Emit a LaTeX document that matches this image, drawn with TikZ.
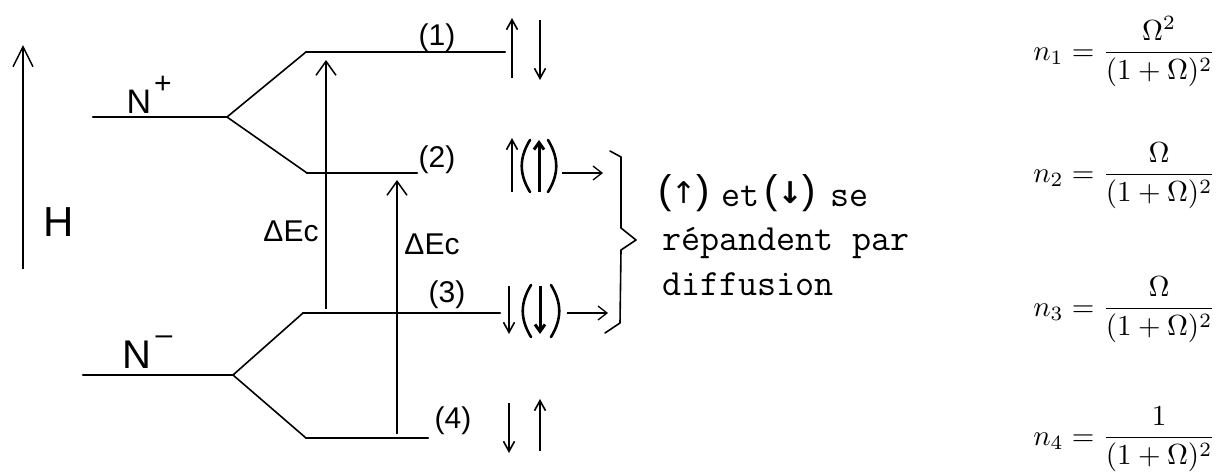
\documentclass[tikz,border=0pt]{standalone}
\usepackage{fontspec}
\newfontfamily\hand{Liberation Sans}
\newfontfamily\arrowfont{DejaVu Sans}
\usetikzlibrary{arrows.meta}
\begin{document}
\begin{tikzpicture}[x=1pt,y=-1pt,
  level/.style={line width=2.3pt, line cap=round},
  branch/.style={line width=1.6pt, line cap=round, line join=round},
  bigvec/.style={line width=1.5pt,-{Straight Barb[length=20pt,width=20pt]}},
  devec/.style={line width=1.5pt,-{Straight Barb[length=14pt,width=20pt]}},
  spin/.style={line width=1.6pt,-{Straight Barb[length=10pt,width=11pt]}},
  bspin/.style={line width=3pt,-{Straight Barb[length=7pt,width=10pt]}},
  flow/.style={line width=1.3pt,-{Straight Barb[length=9pt,width=14pt]}},
  paren/.style={line width=2.6pt, line cap=round},
  lab/.style={font=\hand\fontsize{30}{34}\selectfont, inner sep=0pt},
  txt/.style={font=\ttfamily\fontsize{37}{44}\selectfont, inner sep=0pt, anchor=base west},
  htxt/.style={font=\hand\fontsize{40}{44}\selectfont, inner sep=0pt, anchor=base west},
  eq/.style={inner sep=0pt, anchor=base east}]
\useasboundingbox (0,0) rectangle (1218,472);
% H axis
\coordinate (Hb) at (23,269); \coordinate (Ht) at (23,45);
\draw[bigvec] (Hb) -- (Ht);
\node[lab,font=\hand\fontsize{42}{42}\selectfont] (H) at (59,222) {H};
% N+ levels
\coordinate (Np0) at (93,117); \coordinate (Npb) at (227,117);
\coordinate (L1a) at (306,52); \coordinate (L1b) at (505,52);
\coordinate (L2a) at (307,173); \coordinate (L2b) at (417,173);
\draw[level] (Np0) -- (Npb);
\draw[branch] (Npb) -- (L1a);
\draw[branch] (Npb) -- (L2a);
\draw[level] (L1a) -- (L1b);
\draw[level] (L2a) -- (L2b);
\node[lab,font=\hand\fontsize{34}{34}\selectfont] (Np) at (139,102) {N};
\node[lab] (plus) at (163,85) {+};
% N- levels
\coordinate (Nm0) at (83,375); \coordinate (Nmb) at (233,375);
\coordinate (L3a) at (303,313); \coordinate (L3b) at (500,313);
\coordinate (L4a) at (306,438); \coordinate (L4b) at (428,438);
\draw[level] (Nm0) -- (Nmb);
\draw[branch] (Nmb) -- (L3a);
\draw[branch] (Nmb) -- (L4a);
\draw[level] (L3a) -- (L3b);
\draw[level] (L4a) -- (L4b);
\node[lab,font=\hand\fontsize{40}{40}\selectfont] (Nm) at (137,355) {N};
\node[lab] (minus) at (164,340) {–};
% transition arrows
\coordinate (A1b) at (326,309); \coordinate (A1t) at (326,60);
\draw[devec] (A1b) -- (A1t);
\node[lab] (dE1) at (291,231) {ΔEc};
\coordinate (A2b) at (397,434); \coordinate (A2t) at (397,180);
\draw[devec] (A2b) -- (A2t);
\node[lab] (dE2) at (432,244) {ΔEc};
% level labels
\node[lab] (l1) at (437,38) {(1)};
\node[lab] (l2) at (437,160) {(2)};
\node[lab] (l3) at (447,295) {(3)};
\node[lab] (l4) at (453,421) {(4)};
% spins level 1
\coordinate (s1a) at (512,78); \coordinate (s1b) at (512,18);
\draw[spin] (s1a) -- (s1b);
\coordinate (s1c) at (540,20); \coordinate (s1d) at (540,80);
\draw[spin] (s1c) -- (s1d);
% spins level 2
\coordinate (s2a) at (512,192); \coordinate (s2b) at (512,138);
\draw[spin] (s2a) -- (s2b);
\draw[paren] (530,140) .. controls (519,158) and (519,174) .. (530,192);
\draw[paren] (548,140) .. controls (559,158) and (559,174) .. (548,192);
\coordinate (s2c) at (539,192); \coordinate (s2d) at (539,140);
\draw[bspin] (s2c) -- (s2d);
\coordinate (f2a) at (562,173); \coordinate (f2b) at (603,173);
\draw[flow] (f2a) -- (f2b);
% spins level 3
\coordinate (s3a) at (509,286); \coordinate (s3b) at (509,334);
\draw[spin] (s3a) -- (s3b);
\draw[paren] (531,285) .. controls (520,303) and (520,319) .. (531,337);
\draw[paren] (551,285) .. controls (562,303) and (562,319) .. (551,337);
\coordinate (s3c) at (540,286); \coordinate (s3d) at (540,334);
\draw[bspin] (s3c) -- (s3d);
\coordinate (f3a) at (567,313); \coordinate (f3b) at (608,313);
\draw[flow] (f3a) -- (f3b);
% spins level 4
\coordinate (s4a) at (509,403); \coordinate (s4b) at (509,453);
\draw[spin] (s4a) -- (s4b);
\coordinate (s4c) at (540,451); \coordinate (s4d) at (540,399);
\draw[spin] (s4c) -- (s4d);
% brace
\draw[branch] (610,151) -- (621,157) -- (621,228) -- (636,240) -- (621,250) -- (620,323) -- (605,333);
% text
\node[htxt] (p1) at (658,203) {({\arrowfont\fontsize{30}{30}\selectfont↑})};
\node[txt] (et) at (721,206) {et};
\node[htxt] (p2) at (764,203) {({\arrowfont\bfseries\fontsize{30}{30}\selectfont↓})};
\node[txt] (se) at (830,206) {se};
\node[txt] (rep) at (662,250) {répandent par};
\node[txt] (dif) at (662,295) {diffusion};
% formulas
\node[eq] (n1) at (1216,60) {\scalebox{2.9}{$\displaystyle n_1=\frac{\Omega^2}{(1+\Omega)^2}$}};
\node[eq] (n2) at (1216,182) {\scalebox{2.9}{$\displaystyle n_2=\frac{\Omega}{(1+\Omega)^2}$}};
\node[eq] (n3) at (1216,316) {\scalebox{2.9}{$\displaystyle n_3=\frac{\Omega}{(1+\Omega)^2}$}};
\node[eq] (n4) at (1216,445) {\scalebox{2.9}{$\displaystyle n_4=\frac{1}{(1+\Omega)^2}$}};
\end{tikzpicture}
\end{document}
